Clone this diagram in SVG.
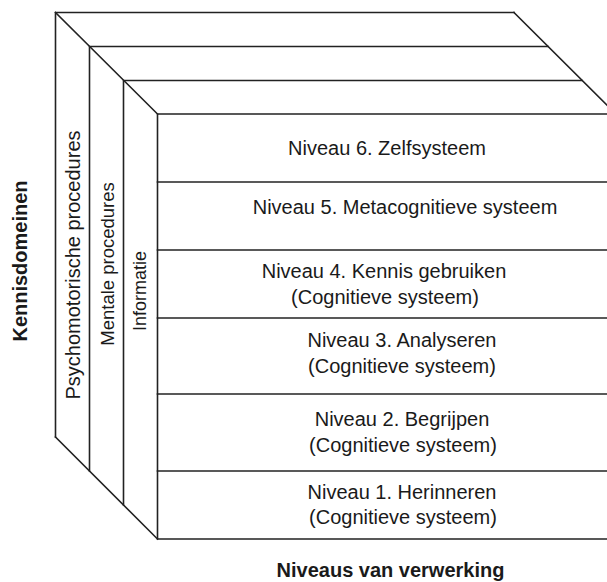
<svg xmlns="http://www.w3.org/2000/svg" width="607" height="582" viewBox="0 0 607 582">
<style>
.ln{stroke:#222;stroke-width:1.6;fill:none;stroke-linecap:square}
.t{font-family:"Liberation Sans",Arial,sans-serif;font-size:20px;fill:#1a1a1a;text-anchor:middle}
.b{font-weight:bold}
</style>
<rect width="607" height="582" fill="#fff"/>
<g id="connectors">
<path class="ln" d="M55.5,12.5 L157.5,114 M55.5,437 L157.5,539 M514,12.5 L616,114"/>
</g>
<g id="panel-psychomotorische">
<path class="ln" d="M514,12.5 L55.5,12.5 L55.5,437"/>
<text class="t" transform="translate(80,265) rotate(-90)">Psychomotorische procedures</text>
</g>
<g id="panel-mentale">
<path class="ln" d="M548,46.5 L89.5,46.5 L89.5,471"/>
<text class="t" style="font-size:18.5px" transform="translate(113.5,264) rotate(-90)">Mentale procedures</text>
</g>
<g id="panel-informatie">
<path class="ln" d="M582,80.5 L123.5,80.5 L123.5,505"/>
<text class="t" style="font-size:18px" transform="translate(146,291) rotate(-90)">Informatie</text>
</g>
<g id="front">
<path class="ln" d="M616,114 L157.5,114 L157.5,539 L616,539"/>
</g>
<g id="niveau-6">
<text class="t" x="387" y="155">Niveau 6. Zelfsysteem</text>
</g>
<g id="niveau-5">
<path class="ln" d="M157.5,182 L616,182"/>
<text class="t" x="405" y="214">Niveau 5. Metacognitieve systeem</text>
</g>
<g id="niveau-4">
<path class="ln" d="M157.5,250 L616,250"/>
<text class="t" x="384" y="278">Niveau 4. Kennis gebruiken</text>
<text class="t" x="385" y="304">(Cognitieve systeem)</text>
</g>
<g id="niveau-3">
<path class="ln" d="M157.5,318 L616,318"/>
<text class="t" x="402" y="347">Niveau 3. Analyseren</text>
<text class="t" x="402" y="373">(Cognitieve systeem)</text>
</g>
<g id="niveau-2">
<path class="ln" d="M157.5,394 L616,394"/>
<text class="t" x="402" y="426">Niveau 2. Begrijpen</text>
<text class="t" x="403" y="452">(Cognitieve systeem)</text>
</g>
<g id="niveau-1">
<path class="ln" d="M157.5,471 L616,471"/>
<text class="t" x="402" y="499">Niveau 1. Herinneren</text>
<text class="t" x="403" y="524">(Cognitieve systeem)</text>
</g>
<g id="label-kennisdomeinen">
<text class="t b" transform="translate(26.5,261) rotate(-90)">Kennisdomeinen</text>
</g>
<g id="label-niveaus">
<text class="t b" x="390.5" y="577">Niveaus van verwerking</text>
</g>
</svg>
